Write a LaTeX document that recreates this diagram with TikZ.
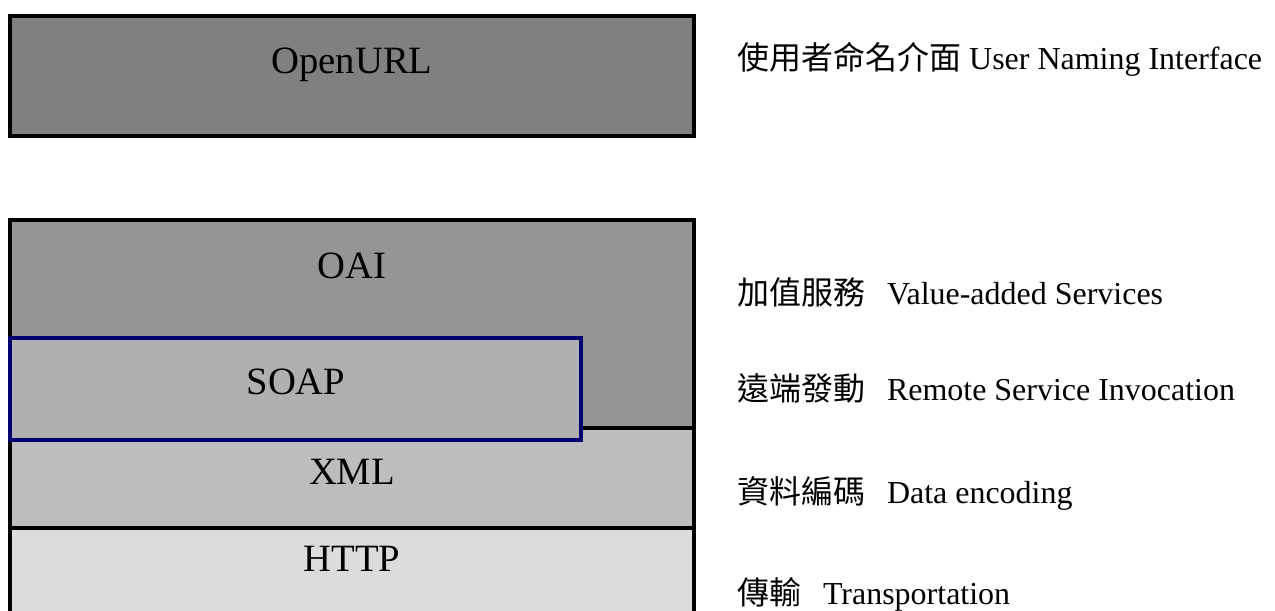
\documentclass[tikz,border=0pt]{standalone}
\usepackage{fontspec}
\setmainfont{Liberation Serif}
\newfontfamily\cjk{Noto Sans CJK TC}
\definecolor{urlgray}{RGB}{128,128,128}
\definecolor{oaigray}{RGB}{149,149,149}
\definecolor{soapgray}{RGB}{176,176,176}
\definecolor{xmlgray}{RGB}{189,189,189}
\definecolor{httpgray}{RGB}{220,220,220}
\definecolor{soapnavy}{RGB}{0,0,110}
\tikzset{
  layer/.style={draw=black,line width=2.3pt},
  layertext/.style={font=\fontsize{22}{26}\selectfont,anchor=base},
  sidetext/.style={font=\fontsize{18.2}{22}\selectfont,anchor=base west,inner sep=0pt},
}
\newcommand{\sidegap}{\hspace{0.68em}}

\begin{document}
\begin{tikzpicture}[x=0.02cm,y=-0.02cm]
\useasboundingbox (0,0) rectangle (1275,611);
\clip (0,0) rectangle (1275,611);

% Naming layer
\draw[layer,fill=urlgray] (10,16) rectangle (694,136);
\node[layertext] (openurl) at (352,74) {OpenURL};

% Protocol stack
\draw[layer,fill=httpgray] (10,528) rectangle (694,660);
\draw[layer,fill=xmlgray] (10,428) rectangle (694,528);
\draw[layer,fill=oaigray] (10,220) rectangle (694,428);
\draw[line width=2.1pt,draw=soapnavy,fill=soapgray] (10,338) rectangle (581,440);

\node[layertext] (oai) at (352,279) {OAI};
\node[layertext] (soap) at (296,394) {SOAP};
\node[layertext] (xml) at (352,484) {XML};
\node[layertext] (http) at (352,571) {HTTP};

% Side labels
\node[sidetext] (naming) at (737,70) {{\cjk 使用者命名介面} User Naming Interface};
\node[sidetext] (services) at (737,305) {{\cjk 加值服務}\sidegap Value-added Services};
\node[sidetext] (invocation) at (737,400) {{\cjk 遠端發動}\sidegap Remote Service Invocation};
\node[sidetext] (encoding) at (737,503) {{\cjk 資料編碼}\sidegap Data encoding};
\node[sidetext] (transport) at (737,604) {{\cjk 傳輸}\sidegap Transportation};

\end{tikzpicture}
\end{document}
